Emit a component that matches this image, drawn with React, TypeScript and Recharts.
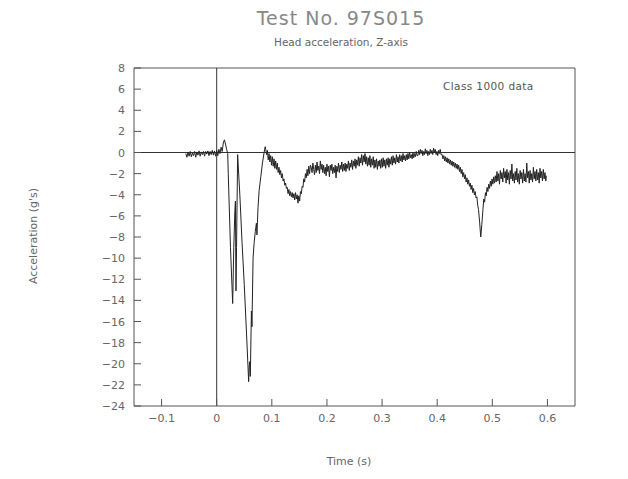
import { LineChart, Line, XAxis, YAxis, ReferenceLine, ReferenceArea } from 'recharts';

// [time (s), acceleration (g)]
const preImpact: [number, number][] = [
  [-0.056, -0.1], [-0.054, -0.45], [-0.052, 0.05], [-0.05, -0.35], [-0.048, 0.1], [-0.046, -0.4],
  [-0.044, -0.05], [-0.042, -0.3], [-0.04, 0.1], [-0.038, -0.45], [-0.036, 0.05], [-0.034, -0.25],
  [-0.032, 0.15], [-0.03, -0.35], [-0.028, 0.05], [-0.026, -0.2], [-0.024, 0.1], [-0.022, -0.35],
  [-0.02, 0.1], [-0.018, -0.15], [-0.016, 0.15], [-0.014, -0.3], [-0.012, 0.1], [-0.01, -0.2],
  [-0.008, 0.2], [-0.006, -0.25], [-0.004, 0.15], [-0.002, -0.35], [0, 0.2], [0.002, -0.3],
  [0.004, 0.3], [0.006, -0.1], [0.008, 0.5], [0.01, 0.1], [0.012, 0.9], [0.014, 1.2],
  [0.016, 0.8], [0.018, 0.3], [0.02, -0.1],
];

const impact: [number, number][] = [
  [0.021, -2], [0.025, -9], [0.029, -14.3], [0.031, -9], [0.033, -5.5], [0.034, -4.6],
  [0.035, -13.1], [0.036, -9], [0.038, -0.2], [0.042, -4], [0.046, -8.5], [0.05, -12.5],
  [0.054, -17], [0.057, -20.5], [0.058, -21.7], [0.059, -20.2], [0.06, -19.8], [0.061, -21.2],
  [0.063, -15], [0.064, -16.5], [0.066, -10], [0.068, -8.5], [0.07, -7.5], [0.072, -6.7],
  [0.073, -7.8], [0.075, -5.2], [0.077, -3.6], [0.08, -2.3], [0.083, -1], [0.086, 0],
  [0.088, 0.55],
];

const rebound: [number, number][] = [
  [0.089, 0.3], [0.0905, -0.2], [0.092, 0.2], [0.0935, -0.7], [0.095, -0.1], [0.0965, -0.9],
  [0.098, -0.3], [0.0995, -1.2], [0.101, -0.4], [0.1025, -1.3], [0.104, -0.6], [0.1055, -1.5],
  [0.107, -0.8], [0.1085, -1.6], [0.11, -1.0], [0.1115, -1.9], [0.113, -1.4], [0.1145, -2.1],
  [0.116, -1.7], [0.1175, -2.4], [0.119, -2.0], [0.1205, -2.7], [0.122, -2.5], [0.1235, -3.1],
  [0.125, -2.9], [0.1265, -3.4], [0.128, -3.3], [0.1295, -3.9], [0.131, -3.5], [0.1325, -4.1],
  [0.134, -3.7], [0.1355, -4.2], [0.137, -3.8], [0.1385, -4.3], [0.14, -3.9], [0.1415, -4.5],
  [0.143, -3.8], [0.1445, -4.4], [0.146, -4.0], [0.1475, -4.8], [0.149, -4.1], [0.1505, -4.6],
  [0.152, -3.7], [0.1535, -3.9], [0.155, -3.2], [0.1565, -3.3], [0.158, -2.5], [0.1595, -2.8],
  [0.161, -2.0], [0.1625, -2.4], [0.164, -1.6], [0.1655, -2.2], [0.167, -1.3], [0.1685, -2.0],
  [0.17, -1.2],
];

const plateau: [number, number][] = [
  [0.1715, -1.4], [0.173, -1.9], [0.1745, -1.0], [0.176, -1.6], [0.1775, -2.1], [0.179, -1.2],
  [0.1805, -1.9], [0.182, -0.9], [0.1835, -1.7], [0.185, -1.3], [0.1865, -2.0], [0.188, -0.8],
  [0.1895, -1.6], [0.191, -1.1], [0.1925, -1.9], [0.194, -1.2], [0.1955, -2.0], [0.197, -1.4],
  [0.1985, -2.2], [0.2, -1.1], [0.2015, -1.8], [0.203, -1.3], [0.2045, -2.3], [0.206, -1.2],
  [0.2075, -1.7], [0.209, -1.1], [0.2105, -2.0], [0.212, -1.4], [0.2135, -1.9], [0.215, -1.2],
  [0.2165, -2.4], [0.218, -1.3], [0.2195, -1.8], [0.221, -1.0], [0.2225, -1.9], [0.224, -1.2],
  [0.2255, -1.6], [0.227, -0.9], [0.2285, -1.8], [0.23, -1.1], [0.2315, -1.7], [0.233, -1.0],
  [0.2345, -1.8], [0.236, -1.1], [0.2375, -1.5], [0.239, -0.8], [0.2405, -1.7], [0.242, -1.0],
  [0.2435, -1.4], [0.245, -0.7], [0.2465, -1.6], [0.248, -0.8], [0.2495, -1.3], [0.251, -0.6],
  [0.2525, -1.5], [0.254, -0.7], [0.2555, -1.2], [0.257, -0.4], [0.2585, -1.3], [0.26, -0.5],
  [0.2615, -1.0], [0.263, -0.2], [0.2645, -1.2], [0.266, -0.3], [0.2675, -0.9], [0.269, -0.1],
  [0.2705, -1.1], [0.272, -0.4], [0.2735, -1.3], [0.275, -0.5], [0.2765, -1.2], [0.278, -0.3],
  [0.2795, -1.4], [0.281, -0.6], [0.2825, -1.2], [0.284, -0.4], [0.2855, -1.5], [0.287, -0.7],
  [0.2885, -1.4], [0.29, -0.6], [0.2915, -1.6], [0.293, -0.8], [0.2945, -1.3], [0.296, -0.7],
  [0.2975, -1.5], [0.299, -0.6], [0.3005, -1.4], [0.302, -0.5], [0.3035, -1.3], [0.305, -0.7],
  [0.3065, -1.5], [0.308, -0.6], [0.3095, -1.2], [0.311, -0.5], [0.3125, -1.4], [0.314, -0.6],
  [0.3155, -1.1], [0.317, -0.4], [0.3185, -1.2], [0.32, -0.3], [0.3215, -1.0], [0.323, -0.5],
  [0.3245, -1.1], [0.326, -0.2], [0.3275, -0.9], [0.329, -0.4], [0.3305, -1.0], [0.332, -0.2],
  [0.3335, -0.8], [0.335, -0.3], [0.3365, -0.9], [0.338, -0.1], [0.3395, -0.7], [0.341, -0.3],
  [0.3425, -0.8], [0.344, -0.2], [0.3455, -0.7], [0.347, -0.1], [0.3485, -0.6], [0.35, 0.0],
  [0.3515, -0.5], [0.353, -0.2], [0.3545, -0.6], [0.356, 0.0], [0.3575, -0.5], [0.359, -0.1],
  [0.3605, -0.4], [0.362, 0.1], [0.3635, -0.3],
];

const plateauTop: [number, number][] = [
  [0.365, -0.3], [0.3665, 0.2], [0.368, -0.2], [0.3695, 0.3], [0.371, -0.1], [0.3725, 0.2],
  [0.374, -0.3], [0.3755, 0.1], [0.377, -0.2], [0.3785, 0.35], [0.38, -0.1], [0.3815, 0.2],
  [0.383, -0.3], [0.3845, 0.1], [0.386, -0.2], [0.3875, 0.3], [0.389, -0.1], [0.3905, 0.2],
  [0.392, -0.2], [0.3935, 0.4], [0.395, 0.0], [0.3965, 0.3], [0.398, -0.2], [0.3995, 0.1],
  [0.401, -0.3], [0.4025, 0.2], [0.404, -0.1], [0.4055, 0.3], [0.407, -0.2],
];

const secondPulse: [number, number][] = [
  [0.409, -0.2], [0.4105, -0.6], [0.412, -0.3], [0.4135, -0.8], [0.415, -0.4], [0.4165, -0.9],
  [0.418, -0.5], [0.4195, -1.0], [0.421, -0.6], [0.4225, -1.1], [0.424, -0.7], [0.4255, -1.2],
  [0.427, -0.8], [0.4285, -1.3], [0.43, -0.9], [0.4315, -1.4], [0.433, -1.0], [0.4345, -1.5],
  [0.436, -1.1], [0.4375, -1.6], [0.439, -1.2], [0.4405, -1.8], [0.442, -1.4], [0.4435, -2.0],
  [0.445, -1.6], [0.4465, -2.3], [0.448, -1.9], [0.4495, -2.5], [0.451, -2.1], [0.4525, -2.8],
  [0.454, -2.4], [0.4555, -3.0], [0.457, -2.6], [0.4585, -3.2], [0.46, -2.9], [0.4615, -3.5],
  [0.463, -3.1], [0.4645, -3.8], [0.466, -3.4], [0.4675, -4.0], [0.469, -3.7], [0.4705, -4.3],
  [0.472, -4.2], [0.4735, -5.0], [0.475, -5.4], [0.477, -6.6], [0.479, -8.0], [0.481, -6.8],
  [0.483, -5.4], [0.4845, -4.4], [0.486, -4.7], [0.4875, -3.8], [0.489, -4.1], [0.4905, -3.3],
  [0.492, -3.7], [0.4935, -3.0], [0.495, -3.4], [0.4965, -2.7], [0.498, -3.2], [0.4995, -2.5],
  [0.501, -3.0], [0.5025, -2.3], [0.504, -2.9], [0.5055, -2.2], [0.507, -2.8],
];

const tail: [number, number][] = [
  [0.5085, -1.8], [0.51, -2.7], [0.5115, -2.0], [0.513, -3.0], [0.5145, -1.7], [0.516, -2.5],
  [0.5175, -1.9], [0.519, -2.8], [0.5205, -1.5], [0.522, -2.4], [0.5235, -1.8], [0.525, -2.9],
  [0.5265, -1.6], [0.528, -2.6], [0.5295, -1.9], [0.531, -3.0], [0.5325, -1.7], [0.534, -2.5],
  [0.5355, -1.1], [0.537, -2.7], [0.5385, -2.0], [0.54, -2.9], [0.5415, -1.8], [0.543, -2.6],
  [0.5445, -1.5], [0.546, -2.8], [0.5475, -2.0], [0.549, -3.0], [0.5505, -1.7], [0.552, -2.5],
  [0.5535, -1.9], [0.555, -2.9], [0.5565, -1.6], [0.558, -2.7], [0.5595, -2.0], [0.561, -2.8],
  [0.5625, -1.0], [0.564, -2.4], [0.5655, -1.8], [0.567, -2.9], [0.5685, -1.7], [0.57, -2.6],
  [0.5715, -2.0], [0.573, -2.8], [0.5745, -1.4], [0.576, -2.5], [0.5775, -1.8], [0.579, -2.7],
  [0.5805, -1.6], [0.582, -2.6], [0.5835, -1.9], [0.585, -2.9], [0.5865, -1.5], [0.588, -2.4],
  [0.5895, -1.8], [0.591, -2.7], [0.5925, -1.6], [0.594, -2.5], [0.5955, -1.9], [0.597, -2.7],
  [0.598, -2.2],
];

const xTicks = [-0.1, 0, 0.1, 0.2, 0.3, 0.4, 0.5, 0.6];
const yTicks = [8, 6, 4, 2, 0, -2, -4, -6, -8, -10, -12, -14, -16, -18, -20, -22, -24];

const data = [...preImpact, ...impact, ...rebound, ...plateau, ...plateauTop, ...secondPulse, ...tail].map(
  ([t, a]) => ({ t, a })
);

const FONT = '"DejaVu Sans", sans-serif';
const INK = '#555';

const fmt = (v: number) => (v < 0 ? '\u2212' + Math.abs(v) : String(v));

function XTick({ x, y, payload }: any) {
  return (
    <g>
      <line x1={x} y1={y} x2={x} y2={y - 7} stroke={INK} />
      <text x={x} y={y + 16} textAnchor="middle" fontSize={11} fill="#666" fontFamily={FONT}>
        {fmt(payload.value)}
      </text>
    </g>
  );
}

function YTick({ x, y, payload }: any) {
  return (
    <g>
      <line x1={x} y1={y} x2={x + 7} y2={y} stroke={INK} />
      <text x={x - 9} y={y + 4} textAnchor="end" fontSize={11} fill="#666" fontFamily={FONT}>
        {fmt(payload.value)}
      </text>
    </g>
  );
}

export default function App() {
  return (
    <div style={{ position: 'absolute', left: 0, top: 0, width: 628, height: 479, background: '#fff', fontFamily: FONT }}>
      <div style={{ position: 'absolute', left: 0, width: 682, top: 7, textAlign: 'center', fontSize: 19, color: '#888', letterSpacing: 1 }}>
        Test No. 97S015
      </div>
      <div style={{ position: 'absolute', left: 0, width: 682, top: 36, textAlign: 'center', fontSize: 10.5, color: '#666' }}>
        Head acceleration, Z-axis
      </div>
      <div style={{ position: 'absolute', left: 443, top: 80, fontSize: 10.5, color: '#555', letterSpacing: 0.4 }}>
        Class 1000 data
      </div>
      <div style={{ position: 'absolute', left: 300, width: 98, top: 455, textAlign: 'center', fontSize: 11, color: '#666' }}>
        Time (s)
      </div>
      <div
        style={{
          position: 'absolute', left: 33, top: 236, fontSize: 11, color: '#666', whiteSpace: 'nowrap',
          transform: 'translate(-50%, -50%) rotate(-90deg)',
        }}
      >
        Acceleration (g's)
      </div>
      <LineChart width={628} height={479} data={data} margin={{ top: 68, right: 53, bottom: 43, left: 94 }}>
        <ReferenceArea x1={-0.15} x2={0.65} y1={-24} y2={8} fill="none" stroke={INK} strokeWidth={1} />
        <XAxis
          dataKey="t"
          type="number"
          domain={[-0.15, 0.65]}
          ticks={xTicks}
          interval={0}
          axisLine={false}
          tickLine={false}
          tickSize={0}
          tickMargin={0}
          height={30}
          tick={<XTick />}
        />
        <YAxis
          type="number"
          domain={[-24, 8]}
          ticks={yTicks}
          interval={0}
          axisLine={false}
          tickLine={false}
          tickSize={0}
          tickMargin={0}
          width={40}
          tick={<YTick />}
        />
        <ReferenceLine x={0} stroke="#333" strokeWidth={1} />
        <ReferenceLine y={0} stroke="#333" strokeWidth={1} />
        <Line
          dataKey="a"
          type="linear"
          stroke="#222"
          strokeWidth={1}
          dot={false}
          isAnimationActive={false}
        />
      </LineChart>
    </div>
  );
}
